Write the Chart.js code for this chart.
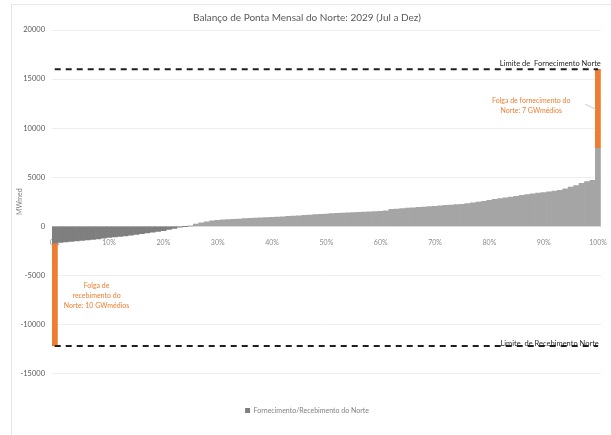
<!DOCTYPE html>
<html><head><meta charset="utf-8">
<script src="https://cdn.jsdelivr.net/npm/chart.js@4"></script>
<style>html,body{margin:0;padding:0;background:#fff}#wrap{width:611px;height:435px;position:relative}</style>
</head><body><div id="wrap"><canvas id="c" width="611" height="435"></canvas></div>
<script>
const categories = ['0%','1%','2%','3%','4%','5%','6%','7%','8%','9%',
'10%','11%','12%','13%','14%','15%','16%','17%','18%','19%',
'20%','21%','22%','23%','24%','25%','26%','27%','28%','29%',
'30%','31%','32%','33%','34%','35%','36%','37%','38%','39%',
'40%','41%','42%','43%','44%','45%','46%','47%','48%','49%',
'50%','51%','52%','53%','54%','55%','56%','57%','58%','59%',
'60%','61%','62%','63%','64%','65%','66%','67%','68%','69%',
'70%','71%','72%','73%','74%','75%','76%','77%','78%','79%',
'80%','81%','82%','83%','84%','85%','86%','87%','88%','89%',
'90%','91%','92%','93%','94%','95%','96%','97%','98%','99%','100%'];
const tickLabels = ['0%','10%','20%','30%','40%','50%','60%','70%','80%','90%','100%'];
const balance = [
-1800,-1650,-1600,-1550,-1500,-1450,-1400,-1350,-1300,-1220,
-1150,-1100,-1050,-980,-900,-830,-760,-680,-600,-520,
-440,-330,-220,-100,-20,30,220,350,450,540,
610,650,680,710,740,770,800,830,850,880,
900,930,970,1000,1040,1070,1110,1140,1180,1210,
1250,1280,1310,1340,1370,1400,1420,1450,1470,1500,
1530,1560,1730,1760,1800,1840,1880,1920,1960,2000,
2040,2080,2120,2160,2200,2240,2300,2380,2450,2550,
2650,2730,2810,2890,2970,3060,3140,3220,3300,3370,
3430,3500,3580,3670,3800,3980,4150,4380,4550,4690,8000];
const receiveSlack = [-1800, -12200];
const supplySlack = [8000, 16000];
const supplyLimit = 16000;
const receiveLimit = -12200;
const yTicks = [-15000,-10000,-5000,0,5000,10000,15000,20000];

const titleText = 'Balanço de Ponta Mensal do Norte: 2029 (Jul a Dez)';
const seriesName = 'Fornecimento/Recebimento do Norte';
const supplyLimitLabel = 'Limite de  Fornecimento Norte';
const receiveLimitLabel = 'Limite  de Recebimento Norte';
const supplyNote = ['Folga de fornecimento do','Norte: 7 GWmédios'];
const receiveNote = ['Folga de','recebimento do','Norte: 10 GWmédios'];

const negColor = '#7f7f7f', posColor = '#a5a5a5', orange = '#ed7d31';
const FONT = 'Lato';
const last = categories.length - 1;
const slackData = categories.map((c, i) => i === 0 ? receiveSlack : (i === last ? supplySlack : null));

const annot = {
  id: 'annot',
  beforeDraw(chart) {
    const ctx = chart.ctx;
    ctx.save();
    ctx.strokeStyle = '#e6e6e6'; ctx.lineWidth = 1;
    ctx.strokeRect(11.5, 4.5, 640, 460);
    ctx.restore();
  },
  afterDraw(chart) {
    const {ctx, scales: {x, y}, chartArea} = chart;
    ctx.save();
    ctx.fillStyle = '#262626';
    ctx.font = '7.5px ' + FONT;
    ctx.textAlign = 'right'; ctx.textBaseline = 'bottom';
    ctx.fillText(supplyLimitLabel, chartArea.right, y.getPixelForValue(supplyLimit) - 2);
    ctx.fillText(receiveLimitLabel, chartArea.right - 2, y.getPixelForValue(receiveLimit) + 1);
    ctx.fillStyle = orange; ctx.textAlign = 'center'; ctx.textBaseline = 'middle';
    ctx.font = '7px ' + FONT;
    const sx = x.getPixelForValue(87.7), sy = y.getPixelForValue(12750);
    supplyNote.forEach((t, k) => ctx.fillText(t, sx, sy + k * 10));
    const rx = x.getPixelForValue(7.7), ry = y.getPixelForValue(-6020);
    receiveNote.forEach((t, k) => ctx.fillText(t, rx, ry + k * 10));
    ctx.strokeStyle = '#bfbfbf'; ctx.lineWidth = 0.8;
    ctx.beginPath();
    ctx.moveTo(x.getPixelForValue(last) - 13, y.getPixelForValue(12450));
    ctx.lineTo(x.getPixelForValue(last) - 2, y.getPixelForValue(11900));
    ctx.stroke();
    ctx.restore();
  }
};

new Chart(document.getElementById('c'), {
  data: {
    labels: categories,
    datasets: [
      { type: 'bar', label: seriesName, data: balance,
        backgroundColor: ctx => (ctx.raw < 0 ? negColor : posColor),
        barPercentage: 1, categoryPercentage: 1, grouped: false, borderWidth: 0, order: 3 },
      { type: 'bar', label: 'Folga', data: slackData, backgroundColor: orange,
        barPercentage: 1, categoryPercentage: 1, grouped: false, borderWidth: 0, order: 2 },
      { type: 'line', label: supplyLimitLabel, data: categories.map(() => supplyLimit),
        borderColor: '#1f1f1f', borderWidth: 2, borderDash: [6, 5], pointRadius: 0, fill: false, order: 1 },
      { type: 'line', label: receiveLimitLabel, data: categories.map(() => receiveLimit),
        borderColor: '#1f1f1f', borderWidth: 2, borderDash: [6, 5], pointRadius: 0, fill: false, order: 1 }
    ]
  },
  options: {
    responsive: false, animation: false,
    layout: { padding: { left: 10, right: 7, top: 0, bottom: 11 } },
    plugins: {
      title: { display: true, text: titleText, color: '#595959',
        font: { family: FONT, size: 10, weight: 'normal' }, padding: { top: 12, bottom: 6 } },
      legend: { position: 'bottom',
        title: { display: true, text: '', font: { size: 8 }, padding: { top: 0, bottom: 14 } },
        labels: { filter: item => item.datasetIndex === 0, boxWidth: 5, boxHeight: 5,
          color: '#7f7f7f', font: { family: FONT, size: 7 }, padding: 10 } },
      tooltip: { enabled: false }
    },
    scales: {
      x: { type: 'category', position: { y: 0 }, z: 1, offset: true,
        grid: { display: false }, border: { display: true, color: '#d9d9d9' },
        ticks: { autoSkip: false, maxRotation: 0, padding: 4, color: '#8c8c8c',
          font: { family: FONT, size: 7 },
          callback: (v, i) => tickLabels.includes(categories[i]) ? categories[i] : '' } },
      y: { min: yTicks[0], max: yTicks[yTicks.length - 1],
        afterBuildTicks: s => { s.ticks = yTicks.map(v => ({ value: v })); },
        afterFit: s => { s.width = 42; },
        ticks: { color: '#595959', font: { family: FONT, size: 7.5 }, padding: 7,
          callback: v => String(v) },
        grid: { color: '#eeeeee', drawTicks: false }, border: { display: false },
        title: { display: true, text: 'MWmed', color: '#7f7f7f', font: { family: FONT, size: 7 }, padding: { top: 6, bottom: 2 } } }
    }
  },
  plugins: [annot]
});
</script></body></html>
